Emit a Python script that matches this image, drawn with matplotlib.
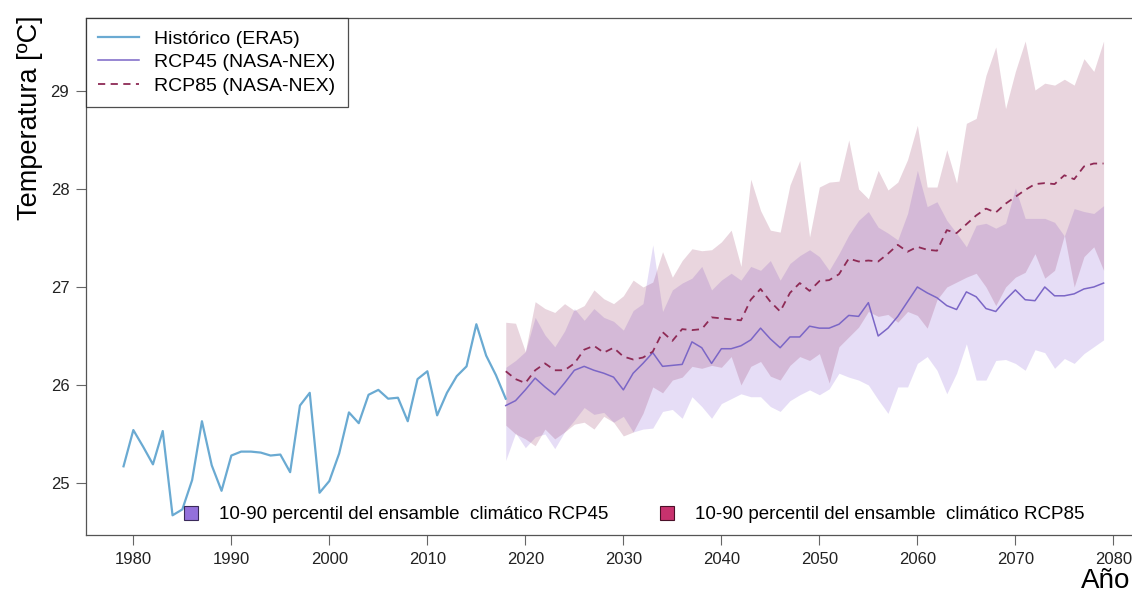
import matplotlib
matplotlib.use("Agg")
import matplotlib.pyplot as plt
from matplotlib.lines import Line2D
import numpy as np

plt.rcParams['font.family'] = ['Liberation Sans', 'DejaVu Sans']

# historical series (ERA5), 1979-2018
hist_years = list(range(1979, 2019))
hist_temp = [25.17, 25.54, 25.37, 25.19, 25.53, 24.67, 24.73, 25.03, 25.63, 25.18,
             24.92, 25.28, 25.32, 25.32, 25.31, 25.28, 25.29, 25.11, 25.79, 25.92,
             24.90, 25.02, 25.30, 25.72, 25.61, 25.90, 25.95, 25.86, 25.87, 25.63,
             26.06, 26.14, 25.69, 25.92, 26.09, 26.19, 26.62, 26.30, 26.10, 25.86]

# projections (NASA-NEX), 2018-2079
proj_years = list(range(2018, 2080))

rcp45_mean = [25.79, 25.84, 25.95, 26.07, 25.98, 25.90, 26.02, 26.15, 26.19, 26.15,
              26.12, 26.08, 25.95, 26.12, 26.22, 26.33, 26.19, 26.20, 26.21, 26.44,
              26.38, 26.22, 26.37, 26.37, 26.40, 26.46, 26.58, 26.47, 26.38, 26.49,
              26.49, 26.60, 26.58, 26.58, 26.62, 26.71, 26.70, 26.84, 26.50, 26.58,
              26.70, 26.85, 27.00, 26.94, 26.89, 26.81, 26.77, 26.95, 26.90, 26.78,
              26.75, 26.87, 26.97, 26.87, 26.86, 27.00, 26.91, 26.91, 26.93, 26.98,
              27.00, 27.04]
rcp45_p10 = [25.23, 25.51, 25.36, 25.47, 25.50, 25.35, 25.52, 25.64, 25.77, 25.70,
             25.72, 25.62, 25.68, 25.52, 25.55, 25.56, 25.73, 25.75, 25.66, 25.88,
             25.78, 25.66, 25.81, 25.86, 25.91, 25.88, 25.88, 25.78, 25.73, 25.84,
             25.90, 25.95, 25.90, 25.96, 26.12, 26.08, 26.05, 26.00, 25.85, 25.71,
             25.98, 25.98, 26.22, 26.29, 26.15, 25.91, 26.12, 26.42, 26.05, 26.05,
             26.25, 26.26, 26.22, 26.15, 26.36, 26.33, 26.17, 26.27, 26.22, 26.32,
             26.39, 26.46]
rcp45_p90 = [26.18, 26.25, 26.34, 26.69, 26.51, 26.39, 26.55, 26.78, 26.66, 26.78,
             26.69, 26.65, 26.56, 26.76, 26.83, 27.43, 26.75, 26.97, 27.04, 27.09,
             27.21, 26.97, 27.07, 27.14, 27.07, 27.21, 27.17, 27.27, 27.07, 27.24,
             27.32, 27.38, 27.31, 27.17, 27.34, 27.53, 27.68, 27.77, 27.61, 27.55,
             27.48, 27.75, 28.19, 27.82, 27.87, 27.68, 27.55, 27.41, 27.63, 27.65,
             27.60, 27.65, 28.01, 27.70, 27.70, 27.70, 27.66, 27.52, 27.80, 27.77,
             27.75, 27.83]

rcp85_mean = [26.14, 26.06, 26.02, 26.15, 26.22, 26.15, 26.15, 26.22, 26.36, 26.40,
              26.33, 26.38, 26.29, 26.26, 26.28, 26.34, 26.54, 26.45, 26.57, 26.56,
              26.57, 26.69, 26.68, 26.67, 26.66, 26.87, 26.98, 26.85, 26.75, 26.94,
              27.04, 26.96, 27.06, 27.07, 27.13, 27.29, 27.26, 27.27, 27.26, 27.34,
              27.43, 27.36, 27.41, 27.38, 27.37, 27.58, 27.55, 27.64, 27.73, 27.80,
              27.76, 27.85, 27.92, 27.99, 28.05, 28.06, 28.05, 28.14, 28.10, 28.23,
              28.26, 28.26]
rcp85_p10 = [25.59, 25.50, 25.45, 25.38, 25.55, 25.45, 25.52, 25.60, 25.62, 25.55,
             25.68, 25.62, 25.48, 25.52, 25.71, 25.98, 25.92, 26.05, 26.08, 26.19,
             26.17, 26.20, 26.18, 26.29, 26.00, 26.19, 26.24, 26.09, 26.05, 26.20,
             26.29, 26.25, 26.32, 26.02, 26.39, 26.49, 26.59, 26.75, 26.70, 26.72,
             26.64, 26.75, 26.71, 26.58, 26.87, 27.00, 27.05, 27.10, 27.14, 27.00,
             26.81, 27.00, 27.10, 27.15, 27.34, 27.09, 27.17, 27.53, 27.00, 27.31,
             27.41, 27.17]
rcp85_p90 = [26.64, 26.63, 26.34, 26.85, 26.78, 26.74, 26.83, 26.76, 26.81, 26.97,
             26.88, 26.83, 26.91, 27.07, 27.00, 27.05, 27.36, 27.10, 27.27, 27.39,
             27.37, 27.38, 27.46, 27.58, 27.21, 28.10, 27.78, 27.58, 27.56, 28.04,
             28.29, 27.51, 28.02, 28.07, 28.08, 28.50, 28.00, 27.90, 28.19, 27.99,
             28.07, 28.30, 28.65, 28.02, 28.02, 28.40, 28.06, 28.67, 28.72, 29.16,
             29.45, 28.82, 29.20, 29.51, 29.01, 29.08, 29.06, 29.12, 29.06, 29.33,
             29.20, 29.51]

fig = plt.figure(figsize=(11.32, 5.94), dpi=100)
ax = fig.add_axes([86 / 1132, 59 / 594, 1046 / 1132, 517 / 594])

# bands
ax.fill_between(proj_years, rcp45_p10, rcp45_p90, color='#9370DB', alpha=0.23, lw=0)
ax.fill_between(proj_years, rcp85_p10, rcp85_p90, color='#8B2252', alpha=0.19, lw=0)

# lines
ax.plot(hist_years, hist_temp, color='#6AAAD2', lw=1.6, label='Histórico (ERA5)')
ax.plot(proj_years, rcp45_mean, color='#7B66C6', lw=1.1, label='RCP45 (NASA-NEX)')
ax.plot(proj_years, rcp85_mean, color='#8E2A55', lw=1.3, ls=(0, (4, 3)),
        label='RCP85 (NASA-NEX)')

ax.set_xlim(1975.17, 2081.9)
ax.set_ylim(24.469, 29.745)
ax.set_xticks(range(1980, 2081, 10))
ax.set_yticks([25, 26, 27, 28, 29])
ax.tick_params(axis='both', direction='out', length=7, width=0.8, color='#666666',
               labelsize=12, labelcolor='#222222', pad=5)

for side in ['left', 'bottom', 'top']:
    ax.spines[side].set_color('#555555')
    ax.spines[side].set_linewidth(0.9)
ax.spines['right'].set_visible(False)

ax.set_ylabel('Temperatura [ºC]', fontsize=19.5)
ax.yaxis.set_label_coords(-0.041, 0.807)
fig.text(1130 / 1132, 0, 'Año', fontsize=20, ha='right', va='bottom')

leg1 = ax.legend(loc='upper left', bbox_to_anchor=(0, 1), borderaxespad=0,
                 fontsize=14, frameon=True, fancybox=False, edgecolor='#222222',
                 handlelength=2.1, handletextpad=0.8, labelspacing=0.3,
                 borderpad=0.62)
leg1.get_frame().set_linewidth(0.9)
ax.add_artist(leg1)

band_handles = [
    Line2D([], [], ls='none', marker='s', markersize=9.5, markerfacecolor='#9370DB',
           markeredgecolor='#3A2A5A', markeredgewidth=0.8),
    Line2D([], [], ls='none', marker='s', markersize=9.5, markerfacecolor='#C8326E',
           markeredgecolor='#4A1028', markeredgewidth=0.8),
]
band_labels = ['10-90 percentil del ensamble  climático RCP45',
               '10-90 percentil del ensamble  climático RCP85']
leg2 = ax.legend(band_handles, band_labels, loc='center', bbox_to_anchor=(0.523, 0.039),
                 ncol=2, frameon=False, fontsize=13.5, handletextpad=1.0,
                 columnspacing=2.6, handlelength=1.0)

fig.savefig('out.png', dpi=100)
